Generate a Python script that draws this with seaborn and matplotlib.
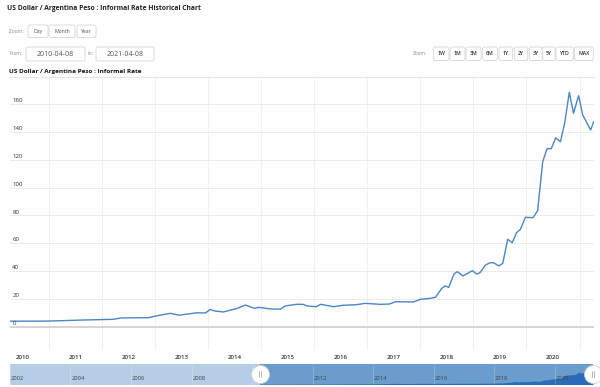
import numpy as np
import pandas as pd
import matplotlib
matplotlib.use("Agg")
import matplotlib.pyplot as plt
import matplotlib.dates as mdates
import matplotlib.transforms as mtransforms
from matplotlib.patches import FancyBboxPatch
import seaborn as sns

# informal rate (ARS per USD)
dates = [
    "2010-04-08", "2010-11-15", "2011-01-15", "2011-08-15", "2012-03-15", "2012-05-15",
    "2012-11-15", "2013-01-15", "2013-04-15", "2013-06-15", "2013-10-15", "2013-12-15",
    "2014-01-15", "2014-02-15", "2014-04-15", "2014-07-15", "2014-09-15", "2014-11-15",
    "2014-12-15", "2015-03-15", "2015-05-15", "2015-06-15", "2015-09-01", "2015-10-15",
    "2015-11-15", "2016-01-15", "2016-02-15", "2016-05-15", "2016-07-15", "2016-10-15",
    "2016-12-15", "2017-03-30", "2017-06-01", "2017-07-15", "2017-11-15", "2018-01-01",
    "2018-03-10", "2018-04-15", "2018-05-28", "2018-06-20", "2018-07-15", "2018-08-20",
    "2018-09-12", "2018-10-20", "2018-12-25", "2019-01-22", "2019-02-15", "2019-03-25",
    "2019-04-25", "2019-05-20", "2019-06-25", "2019-07-22", "2019-08-25", "2019-09-25",
    "2019-10-25", "2019-11-20", "2019-12-25", "2020-02-15", "2020-03-18", "2020-04-22",
    "2020-05-22", "2020-06-20", "2020-07-20", "2020-08-22", "2020-09-20", "2020-10-22",
    "2020-11-20", "2020-12-25", "2021-01-22", "2021-03-18", "2021-04-08",
]
rates = [
    4.0, 4.0, 4.1, 4.8, 5.3, 6.3,
    6.5, 7.9, 9.6, 8.3, 10.0, 9.9,
    12.5, 11.3, 10.6, 13.0, 15.6, 13.2,
    13.9, 12.7, 12.7, 14.9, 16.1, 16.1,
    14.9, 14.4, 16.1, 14.4, 15.4, 15.8,
    16.8, 16.1, 16.3, 18.0, 17.8, 19.7,
    20.4, 21.2, 27.6, 29.3, 28.3, 37.9,
    39.6, 36.5, 40.3, 37.9, 38.8, 44.4,
    46.0, 46.0, 43.7, 45.6, 62.9, 60.4,
    67.6, 70.0, 78.7, 78.4, 83.5, 118.7,
    128.1, 128.1, 135.8, 133.1, 146.3, 168.6,
    153.5, 166.2, 152.3, 141.5, 147.5,
]
from_date = "2010-04-08"
to_date = "2021-04-08"
y_ticks = [0, 20, 40, 60, 80, 100, 120, 140, 160]
years = list(range(2010, 2021))
nav_years = list(range(2002, 2021, 2))
range_buttons = ["1W", "1M", "3M", "6M", "1Y", "2Y", "3Y", "5Y", "YTD", "MAX"]
period_buttons = ["Day", "Month", "Year"]

sns.set_style("white")
plt.rcParams["font.family"] = ["Open Sans", "DejaVu Sans"]

df = pd.DataFrame({"date": pd.to_datetime(dates), "rate": rates})
t0, t1 = pd.Timestamp(from_date), pd.Timestamp(to_date)

W, H = 600, 387
fig = plt.figure(figsize=(W / 100, H / 100), dpi=100)
px = mtransforms.IdentityTransform()


def box(x0, y0, w, h):
    return [x0 / W, 1 - (y0 + h) / H, w / W, h / H]


def txt(x, y, s, **kw):
    fig.text(x / W, 1 - y / H, s, **kw)


def button(x0, y0, w, h, label, size=3.8, color="#333333", weight="semibold"):
    fig.add_artist(FancyBboxPatch((x0, H - y0 - h), w, h,
                                  boxstyle="round,pad=0,rounding_size=2",
                                  transform=px, fc="white", ec="#d5d5d5", lw=0.6))
    txt(x0 + w / 2, y0 + h / 2, label, ha="center", va="center",
        fontsize=size, color=color, fontweight=weight)


# header
txt(7, 9, "US Dollar / Argentina Peso : Informal Rate Historical Chart",
    fontsize=4.9, fontweight="bold", color="#222222", va="center")
txt(9, 31.5, "Zoom :", fontsize=3.5, color="#888888", va="center")
bx = [(28, 20), (49, 26), (77, 19)]
for (x0, w), lab in zip(bx, period_buttons):
    button(x0, 25, w, 12.5, lab, size=3.7, color="#555555", weight="normal")
txt(9, 53.5, "From:", fontsize=3.5, color="#888888", va="center")
txt(88, 53.5, "to:", fontsize=3.5, color="#888888", va="center")
button(26, 47, 59, 14, from_date, size=5, color="#555555", weight="normal")
button(96, 47, 58, 14, to_date, size=5, color="#555555", weight="normal")

txt(413, 53.5, "Zoom:", fontsize=3.5, color="#888888", va="center")
rb = [(433.3, 15.7), (450, 15), (466, 15), (482.7, 14.6), (499, 13.7),
      (514.3, 13.4), (529.3, 13), (542.7, 12.3), (556, 17.3), (574.3, 19)]
for (x0, w), lab in zip(rb, range_buttons):
    button(x0, 47, w, 13.5, lab, size=3.7)

txt(9, 71, "US Dollar / Argentina Peso : Informal Rate",
    fontsize=4.6, fontweight="bold", color="#111111", va="center")

# main chart
ax = fig.add_axes(box(10, 77, 584, 273))
sns.lineplot(data=df, x="date", y="rate", ax=ax, color="#4a86c8", lw=1.0)
ax.set_xlim(t0, pd.Timestamp("2021-04-10"))
ax.set_ylim(-16.75, 179.6)
ax.set_yticks(y_ticks)
ax.set_yticklabels([])
ax.yaxis.grid(True, color="#e8e8e8", lw=0.6)
ax.axhline(0, color="#d0d0d0", lw=1.2, zorder=1)
ax.set_xticks([pd.Timestamp(f"{y}-07-02") for y in years])
ax.set_xticklabels([str(y) for y in years])
ax.set_xticks([pd.Timestamp(f"{y + 1}-01-01") for y in years], minor=True)
ax.xaxis.grid(True, which="minor", color="#efefef", lw=0.6)
ax.tick_params(axis="x", which="both", length=0, pad=3.5, labelsize=4.4,
               labelcolor="#333333")
for lab in ax.get_xticklabels():
    lab.set_fontweight("semibold")
ax.tick_params(axis="y", length=0)
ax.set_xlabel("")
ax.set_ylabel("")
for side in ["left", "right", "bottom"]:
    ax.spines[side].set_visible(False)
ax.spines["top"].set_color("#e6e6e6")
ax.spines["top"].set_linewidth(0.8)
ytr = ax.get_yaxis_transform()
for v in y_ticks:
    ax.text(0.004, v + 2.4, str(v), transform=ytr, fontsize=4.4,
            color="#333333", ha="left", va="center")

# navigator
nav = fig.add_axes(box(10, 363.5, 583, 21))
nav.set_facecolor("#b5cee6")
nav.axvspan(t0, t1, color="#6a9dcc", lw=0, zorder=1)
nav.fill_between(df["date"], df["rate"], color="#2a6cb8", lw=0, zorder=2)
nav.set_xlim(pd.Timestamp("2002-01-01"), t1)
nav.set_ylim(0, 285)
nav.set_xticks([])
nav.set_yticks([])
for s in nav.spines.values():
    s.set_visible(False)
xtr = nav.get_xaxis_transform()
for y in nav_years:
    d = pd.Timestamp(f"{y}-01-01")
    nav.axvline(d, color="white", lw=0.5, ls=(0, (1, 2)), alpha=0.8, zorder=3)
    nav.text(d + pd.Timedelta(days=12), 0.3, str(y), transform=xtr,
             fontsize=4.2, color="#444444", ha="left", va="center", zorder=4)
for d in [t0, t1]:
    nav.plot([d], [0.5], transform=xtr, marker="o", ms=13, mfc="white",
             mec="#cccccc", mew=0.6, clip_on=False, zorder=5)
    for off in [-14, 14]:
        dd = d + pd.Timedelta(days=off)
        nav.plot([dd, dd], [0.35, 0.65], transform=xtr, color="#999999",
                 lw=0.5, clip_on=False, zorder=6)

fig.savefig("out.png", dpi=100)
